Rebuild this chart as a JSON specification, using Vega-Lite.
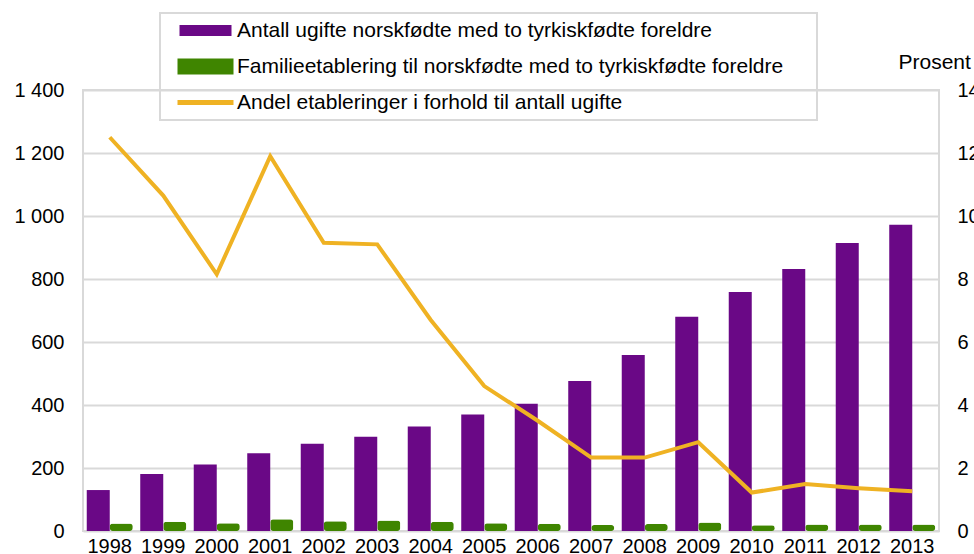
{
  "$schema": "https://vega.github.io/schema/vega-lite/v6.json",
  "autosize": {"type": "none"},
  "width": 856,
  "height": 441,
  "padding": {"left": 83, "top": 90, "right": 35, "bottom": 23},
  "background": "white",
  "config": {
    "font": "Liberation Sans",
    "view": {"stroke": "#d9d9d9", "strokeWidth": 2},
    "axis": {"labelFont": "Liberation Sans", "titleFont": "Liberation Sans", "labelColor": "#000", "titleColor": "#000"}
  },
  "data": {
    "values": [
      {"year": "1998", "series": "Antall ugifte norskfødte med to tyrkiskfødte foreldre", "value": 130},
      {"year": "1999", "series": "Antall ugifte norskfødte med to tyrkiskfødte foreldre", "value": 181},
      {"year": "2000", "series": "Antall ugifte norskfødte med to tyrkiskfødte foreldre", "value": 211},
      {"year": "2001", "series": "Antall ugifte norskfødte med to tyrkiskfødte foreldre", "value": 247},
      {"year": "2002", "series": "Antall ugifte norskfødte med to tyrkiskfødte foreldre", "value": 277},
      {"year": "2003", "series": "Antall ugifte norskfødte med to tyrkiskfødte foreldre", "value": 299},
      {"year": "2004", "series": "Antall ugifte norskfødte med to tyrkiskfødte foreldre", "value": 332},
      {"year": "2005", "series": "Antall ugifte norskfødte med to tyrkiskfødte foreldre", "value": 370},
      {"year": "2006", "series": "Antall ugifte norskfødte med to tyrkiskfødte foreldre", "value": 404},
      {"year": "2007", "series": "Antall ugifte norskfødte med to tyrkiskfødte foreldre", "value": 476},
      {"year": "2008", "series": "Antall ugifte norskfødte med to tyrkiskfødte foreldre", "value": 559},
      {"year": "2009", "series": "Antall ugifte norskfødte med to tyrkiskfødte foreldre", "value": 680},
      {"year": "2010", "series": "Antall ugifte norskfødte med to tyrkiskfødte foreldre", "value": 759},
      {"year": "2011", "series": "Antall ugifte norskfødte med to tyrkiskfødte foreldre", "value": 832},
      {"year": "2012", "series": "Antall ugifte norskfødte med to tyrkiskfødte foreldre", "value": 914},
      {"year": "2013", "series": "Antall ugifte norskfødte med to tyrkiskfødte foreldre", "value": 972},
      {"year": "1998", "series": "Familieetablering til norskfødte med to tyrkiskfødte foreldre", "value": 24},
      {"year": "1999", "series": "Familieetablering til norskfødte med to tyrkiskfødte foreldre", "value": 29},
      {"year": "2000", "series": "Familieetablering til norskfødte med to tyrkiskfødte foreldre", "value": 25},
      {"year": "2001", "series": "Familieetablering til norskfødte med to tyrkiskfødte foreldre", "value": 37},
      {"year": "2002", "series": "Familieetablering til norskfødte med to tyrkiskfødte foreldre", "value": 31},
      {"year": "2003", "series": "Familieetablering til norskfødte med to tyrkiskfødte foreldre", "value": 33},
      {"year": "2004", "series": "Familieetablering til norskfødte med to tyrkiskfødte foreldre", "value": 29},
      {"year": "2005", "series": "Familieetablering til norskfødte med to tyrkiskfødte foreldre", "value": 25},
      {"year": "2006", "series": "Familieetablering til norskfødte med to tyrkiskfødte foreldre", "value": 23},
      {"year": "2007", "series": "Familieetablering til norskfødte med to tyrkiskfødte foreldre", "value": 19},
      {"year": "2008", "series": "Familieetablering til norskfødte med to tyrkiskfødte foreldre", "value": 22},
      {"year": "2009", "series": "Familieetablering til norskfødte med to tyrkiskfødte foreldre", "value": 27},
      {"year": "2010", "series": "Familieetablering til norskfødte med to tyrkiskfødte foreldre", "value": 18},
      {"year": "2011", "series": "Familieetablering til norskfødte med to tyrkiskfødte foreldre", "value": 21},
      {"year": "2012", "series": "Familieetablering til norskfødte med to tyrkiskfødte foreldre", "value": 21},
      {"year": "2013", "series": "Familieetablering til norskfødte med to tyrkiskfødte foreldre", "value": 21},
      {"year": "1998", "series": "Andel etableringer i forhold til antall ugifte", "value": 12.5},
      {"year": "1999", "series": "Andel etableringer i forhold til antall ugifte", "value": 10.65},
      {"year": "2000", "series": "Andel etableringer i forhold til antall ugifte", "value": 8.15},
      {"year": "2001", "series": "Andel etableringer i forhold til antall ugifte", "value": 11.9},
      {"year": "2002", "series": "Andel etableringer i forhold til antall ugifte", "value": 9.15},
      {"year": "2003", "series": "Andel etableringer i forhold til antall ugifte", "value": 9.1},
      {"year": "2004", "series": "Andel etableringer i forhold til antall ugifte", "value": 6.7},
      {"year": "2005", "series": "Andel etableringer i forhold til antall ugifte", "value": 4.6},
      {"year": "2006", "series": "Andel etableringer i forhold til antall ugifte", "value": 3.5},
      {"year": "2007", "series": "Andel etableringer i forhold til antall ugifte", "value": 2.33},
      {"year": "2008", "series": "Andel etableringer i forhold til antall ugifte", "value": 2.33},
      {"year": "2009", "series": "Andel etableringer i forhold til antall ugifte", "value": 2.82},
      {"year": "2010", "series": "Andel etableringer i forhold til antall ugifte", "value": 1.22},
      {"year": "2011", "series": "Andel etableringer i forhold til antall ugifte", "value": 1.49},
      {"year": "2012", "series": "Andel etableringer i forhold til antall ugifte", "value": 1.36},
      {"year": "2013", "series": "Andel etableringer i forhold til antall ugifte", "value": 1.26}
    ]
  },
  "encoding": {
    "x": {
      "field": "year",
      "type": "nominal",
      "scale": {"paddingInner": 0.14, "paddingOuter": 0.07},
      "axis": {"title": null, "labelAngle": 0, "ticks": false, "domain": false, "labelPadding": 5, "labelFontSize": 20, "labelFont": "Liberation Sans"}
    }
  },
  "layer": [
    {
      "encoding": {
        "xOffset": {
          "field": "series",
          "type": "nominal",
          "scale": {"domain": ["Antall ugifte norskfødte med to tyrkiskfødte foreldre", "Familieetablering til norskfødte med to tyrkiskfødte foreldre"], "paddingInner": 0, "paddingOuter": 0}
        },
        "y": {
          "field": "value",
          "type": "quantitative",
          "scale": {"domain": [0, 1400], "nice": false},
          "axis": {
            "title": null,
            "values": [0, 200, 400, 600, 800, 1000, 1200, 1400],
            "labelExpr": "replace(format(datum.value, ','), ',', ' ')",
            "ticks": false,
            "domain": false,
            "labelPadding": 19,
            "labelFontSize": 20,
            "gridColor": "#d9d9d9",
            "gridWidth": 2
          }
        },
        "color": {
          "field": "series",
          "type": "nominal",
          "scale": {
            "domain": ["Antall ugifte norskfødte med to tyrkiskfødte foreldre", "Familieetablering til norskfødte med to tyrkiskfødte foreldre", "Andel etableringer i forhold til antall ugifte"],
            "range": ["#6a0886", "#3f8500", "#efb223"]
          },
          "legend": {
            "title": null,
            "orient": "none",
            "legendX": 77,
            "legendY": -77,
            "direction": "vertical",
            "strokeColor": "#d9d9d9",
            "padding": 7,
            "labelFontSize": 21,
            "labelFont": "Liberation Sans",
            "labelColor": "#000",
            "labelLimit": 0,
            "labelOffset": 21,
            "symbolOffset": 28,
            "rowPadding": 14,
            "symbolSize": 400,
            "symbolOpacity": 1,
            "encode": {
              "legend": {"update": {"strokeWidth": {"value": 2}}},
              "symbols": {
                "update": {
                  "shape": {"signal": "datum.value == 'Antall ugifte norskfødte med to tyrkiskfødte foreldre' ? 'M60.4,0M-2.6,-0.55H2.6V0.55H-2.6Z' : datum.value == 'Andel etableringer i forhold til antall ugifte' ? 'M60.4,0M-2.8,-0.25H2.8V0.25H-2.8Z' : 'M60.4,0M-2.8,-0.8H2.8V0.8H-2.8Z'"},
                  "fill": {"signal": "scale('color', datum.value)"},
                  "strokeWidth": {"value": 0}
                }
              }
            }
          }
        }
      },
      "layer": [
        {
          "transform": [{"filter": "datum.series == 'Antall ugifte norskfødte med to tyrkiskfødte foreldre'"}],
          "mark": {"type": "bar"}
        },
        {
          "transform": [{"filter": "datum.series == 'Familieetablering til norskfødte med to tyrkiskfødte foreldre'"}],
          "mark": {"type": "bar", "cornerRadius": 3}
        }
      ]
    },
    {
      "transform": [{"filter": "datum.series == 'Andel etableringer i forhold til antall ugifte'"}],
      "mark": {"type": "line", "strokeWidth": 4},
      "encoding": {
        "y": {
          "field": "value",
          "type": "quantitative",
          "scale": {"domain": [0, 14], "nice": false},
          "axis": {
            "orient": "right",
            "title": "Prosent",
            "titleAngle": 0,
            "titleAlign": "left",
            "titleBaseline": "middle",
            "titleX": -41,
            "titleY": -28,
            "titleFontSize": 21,
            "titleFontWeight": "normal",
            "values": [0, 2, 4, 6, 8, 10, 12, 14],
            "grid": false,
            "ticks": false,
            "domain": false,
            "labelPadding": 18,
            "labelFontSize": 20
          }
        },
        "color": {"field": "series", "type": "nominal"}
      }
    }
  ],
  "resolve": {"scale": {"y": "independent"}}
}
